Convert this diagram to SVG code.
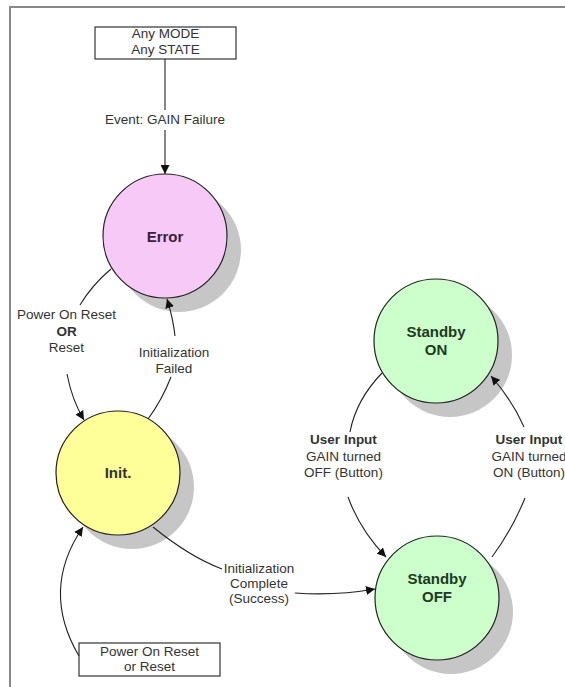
<svg xmlns="http://www.w3.org/2000/svg" width="565" height="687" viewBox="0 0 565 687">
<style>
  text { font-family: "Liberation Sans", Arial, sans-serif; font-size: 13.5px; fill: #333; text-anchor: middle; }
  .b { font-weight: bold; }
  .st { font-weight: bold; font-size: 15px; }
  .conn { fill: none; stroke: #222; stroke-width: 1.1; }
  .box { fill: #fff; stroke: #333; stroke-width: 1.2; }
  .shadow { fill: #c6c6c6; }
  .state { stroke: #222; stroke-width: 1.2; }
</style>
<defs>
  <marker id="arr" viewBox="0 0 10 10" refX="10" refY="5" markerWidth="9" markerHeight="9" markerUnits="userSpaceOnUse" orient="auto">
    <path d="M0,0 L10,5 L0,10 z" fill="#111"/>
  </marker>
</defs>
<rect width="565" height="687" fill="#fff"/>
<g id="frame">
  <path d="M10,687 L10,7 L565,7" fill="none" stroke="#888" stroke-width="2"/>
</g>
<g id="any-state">
  <rect class="box" x="95" y="27" width="141" height="32"/>
  <text x="165.5" y="38">Any MODE</text>
  <text x="165.5" y="54">Any STATE</text>
</g>
<g id="error">
  <circle class="shadow" cx="179" cy="250" r="62"/>
  <circle class="state" cx="165" cy="236" r="62" fill="#f6c9f6"/>
  <text class="st" x="165" y="241.5" style="fill:#3a1f3a">Error</text>
</g>
<g id="init">
  <circle class="shadow" cx="132" cy="487" r="62"/>
  <circle class="state" cx="118" cy="473" r="62" fill="#ffff99"/>
  <text class="st" x="118" y="478" style="fill:#333">Init.</text>
</g>
<g id="standby-on">
  <circle class="shadow" cx="450" cy="355" r="62"/>
  <circle class="state" cx="436" cy="341" r="62" fill="#ccffcc"/>
  <text class="st" x="436" y="337" style="fill:#1f3a1f">Standby</text>
  <text class="st" x="436" y="355" style="fill:#1f3a1f">ON</text>
</g>
<g id="standby-off">
  <circle class="shadow" cx="451" cy="612" r="62"/>
  <circle class="state" cx="437" cy="598" r="62" fill="#ccffcc"/>
  <text class="st" x="437" y="584" style="fill:#1f3a1f">Standby</text>
  <text class="st" x="437" y="602" style="fill:#1f3a1f">OFF</text>
</g>
<g id="reset-box">
  <rect class="box" x="79" y="643" width="141" height="33"/>
  <text x="149.5" y="656">Power On Reset</text>
  <text x="149.5" y="671">or Reset</text>
</g>
<g id="connectors">
  <path class="conn" d="M165,59 L165,110"/>
  <path class="conn" d="M165,130 L165,174" marker-end="url(#arr)"/>
  <text x="165" y="124">Event: GAIN Failure</text>

  <path class="conn" d="M111,269 Q92,285 80,305"/>
  <path class="conn" d="M67,374 Q72,400 84,420" marker-end="url(#arr)"/>
  <text x="66.5" y="319">Power On Reset</text>
  <text class="b" x="66.5" y="336">OR</text>
  <text x="66.5" y="352">Reset</text>

  <path class="conn" d="M148,419 Q162,400 171,377"/>
  <path class="conn" d="M175,336 Q173,318 167,299" marker-end="url(#arr)"/>
  <text x="174" y="357">Initialization</text>
  <text x="174" y="373">Failed</text>

  <path class="conn" d="M79,656 Q40,590 83,527" marker-end="url(#arr)"/>

  <path class="conn" d="M153,527 Q190,557 222,569"/>
  <path class="conn" d="M295,593 Q335,596 375,589" marker-end="url(#arr)"/>
  <text x="259" y="573">Initialization</text>
  <text x="259" y="588">Complete</text>
  <text x="259" y="603">(Success)</text>

  <path class="conn" d="M382,373 Q356,400 350,432"/>
  <path class="conn" d="M348,497 Q360,530 386,557" marker-end="url(#arr)"/>
  <text class="b" x="343.5" y="444">User Input</text>
  <text x="343.5" y="461">GAIN turned</text>
  <text x="343.5" y="477">OFF (Button)</text>

  <path class="conn" d="M492,557 Q512,530 525,498"/>
  <path class="conn" d="M524,427 Q512,400 491,376" marker-end="url(#arr)"/>
  <text class="b" x="529" y="444">User Input</text>
  <text x="529" y="461">GAIN turned</text>
  <text x="529" y="477">ON (Button)</text>
</g>
</svg>
